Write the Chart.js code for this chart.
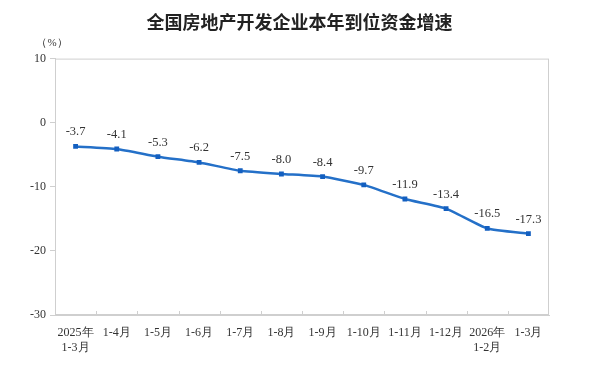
<!DOCTYPE html>
<html>
<head>
<meta charset="utf-8">
<script src="https://cdn.jsdelivr.net/npm/chart.js@4/dist/chart.umd.min.js"></script>
<style>
    html, body { margin: 0; padding: 0; background: #fff; }
    #wrap { width: 599px; height: 365px; }
</style>
</head>
<body>
<div id="wrap"><canvas id="grafica"></canvas></div>
<script>
// ─── datos ───────────────────────────────────────────────
const titulo = '全国房地产开发企业本年到位资金增速';
const unidad = '（%）';
const meses = [
    ['2025年', '1-3月'], '1-4月', '1-5月', '1-6月', '1-7月', '1-8月',
    '1-9月', '1-10月', '1-11月', '1-12月', ['2026年', '1-2月'], '1-3月'
];
const valores = [-3.7, -4.1, -5.3, -6.2, -7.5, -8.0, -8.4, -9.7, -11.9, -13.4, -16.5, -17.3];
const ejeY = { min: -30, max: 10, paso: 10 };

const serif = '"Liberation Serif", "Times New Roman", serif';
const gris = '#cfcfcf';

// etiquetas de valor encima de cada punto
const etiquetas = {
    id: 'etiquetas',
    afterDatasetsDraw(chart) {
        const ctx = chart.ctx;
        const meta = chart.getDatasetMeta(0);
        ctx.save();
        ctx.font = '12.5px ' + serif;
        ctx.fillStyle = '#333';
        ctx.textAlign = 'center';
        ctx.textBaseline = 'bottom';
        meta.data.forEach((p, i) => {
            ctx.fillText(valores[i].toFixed(1), p.x, p.y - 8);
        });
        ctx.restore();
    }
};

// marco del área, marcas internas del eje x y la unidad
const marco = {
    id: 'marco',
    beforeDatasetsDraw(chart) {
        const { ctx, chartArea: a, scales } = chart;
        ctx.save();
        ctx.strokeStyle = gris;
        ctx.lineWidth = 1;
        ctx.strokeRect(a.left + 0.5, a.top + 0.5, a.right - a.left - 1, a.bottom - a.top - 1);
        ctx.beginPath();
        for (let i = 1; i < meses.length; i++) {
            const x = Math.round((scales.x.getPixelForValue(i - 1) + scales.x.getPixelForValue(i)) / 2) + 0.5;
            ctx.moveTo(x, a.bottom);
            ctx.lineTo(x, a.bottom - 4);
        }
        ctx.stroke();
        ctx.restore();
    },
    afterDraw(chart) {
        const { ctx, chartArea: a } = chart;
        ctx.save();
        ctx.font = '11px ' + serif;
        ctx.fillStyle = '#333';
        ctx.textAlign = 'center';
        ctx.textBaseline = 'middle';
        ctx.fillText(unidad, a.left - 3, 43);
        ctx.restore();
    }
};

new Chart(document.getElementById('grafica'), {
    type: 'line',
    data: {
        labels: meses,
        datasets: [{
            data: valores,
            borderColor: '#2470c8',
            borderWidth: 2.5,
            tension: 0.15,
            pointStyle: 'rect',
            pointRadius: 3.4,
            pointBackgroundColor: '#135fc0',
            pointBorderWidth: 0
        }]
    },
    options: {
        responsive: true,
        maintainAspectRatio: false,
        animation: false,
        layout: { padding: 0 },
        plugins: {
            legend: { display: false },
            tooltip: { enabled: false },
            title: {
                display: true,
                text: titulo,
                color: '#222',
                font: { family: '"Noto Sans CJK SC", sans-serif', size: 18, weight: 'bold' },
                padding: { top: 11, bottom: 26 }
            }
        },
        scales: {
            x: {
                offset: true,
                grid: { display: false, drawTicks: false },
                border: { display: true, color: gris },
                ticks: {
                    color: '#333',
                    font: { family: serif, size: 12, lineHeight: 1.25 },
                    padding: 10,
                    maxRotation: 0,
                    autoSkip: false
                },
                afterFit(s) { s.height = 50; }
            },
            y: {
                min: ejeY.min,
                max: ejeY.max,
                grid: { drawOnChartArea: false, drawTicks: true, tickLength: 5, color: gris },
                border: { display: true, color: gris },
                ticks: {
                    stepSize: ejeY.paso,
                    color: '#333',
                    font: { family: serif, size: 12 },
                    padding: 4
                },
                afterFit(s) { s.width = 55; }
            },
            // eje vacío a la derecha, solo reserva el margen
            derecha: {
                type: 'linear',
                position: 'right',
                display: true,
                grid: { display: false, drawTicks: false },
                border: { display: false },
                ticks: { display: false },
                afterFit(s) { s.width = 50; }
            }
        }
    },
    plugins: [marco, etiquetas]
});
</script>
</body>
</html>
